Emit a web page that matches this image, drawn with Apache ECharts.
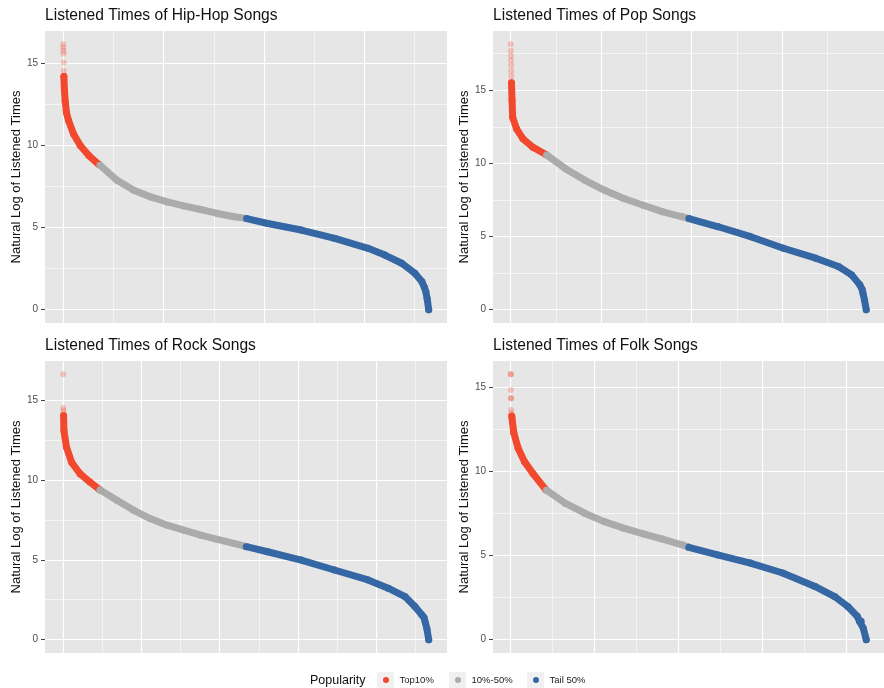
<!DOCTYPE html>
<html><head><meta charset="utf-8">
<script src="https://cdn.jsdelivr.net/npm/echarts@6/dist/echarts.min.js"></script>
<style>html,body{margin:0;padding:0;background:#fff}#c{width:884px;height:688px}</style>
</head><body><div id="c"></div>
<script>
// ---------- data ----------
const groupNames = ['Top10%', '10%-50%', 'Tail 50%'];
const groupColors = ['#F2492E', '#ABABAB', '#3467A4'];
const legendTitle = 'Popularity';
const yAxisTitle = 'Natural Log of Listened Times';
const yTickValues = [0, 5, 10, 15];
const panelTitles = ['Listened Times of Hip-Hop Songs', 'Listened Times of Pop Songs',
                     'Listened Times of Rock Songs', 'Listened Times of Folk Songs'];

// Hip-Hop
const hiphopCount = 3640;
const hiphopOutlierRank = [1, 2, 3, 4, 5, 6];
const hiphopOutlierLog = [16.16, 15.96, 15.76, 15.58, 15.05, 14.55];
const hiphopRank = [7, 12, 20, 33, 54, 103, 170, 253, 353, 366, 537, 703, 870, 1037, 1201, 1369, 1536, 1704, 1820,
                    1827, 2038, 2370, 2705, 3036, 3203, 3371, 3502, 3571, 3595, 3611, 3624, 3640];
const hiphopLog = [14.2, 13.4, 12.7, 12.0, 11.5, 10.7, 10.0, 9.4, 8.85, 8.8, 7.88, 7.27, 6.87, 6.56, 6.32, 6.10, 5.86, 5.66, 5.56,
                   5.55, 5.25, 4.85, 4.34, 3.74, 3.33, 2.83, 2.22, 1.72, 1.39, 1.10, 0.69, 0];

// Pop
const popCount = 3930;
const popOutlierRank = [1, 2, 3, 4, 5, 6, 7, 8];
const popOutlierLog = [18.14, 17.69, 17.35, 17.05, 16.71, 16.33, 15.99, 15.65];
const popRank = [9, 15, 22, 65, 136, 244, 389, 396, 605, 821, 1038, 1250, 1466, 1682, 1898, 1965,
                 1970, 2295, 2653, 3014, 3372, 3623, 3769, 3859, 3885, 3895, 3910, 3930];
const popLog = [15.5, 14.3, 13.15, 12.36, 11.68, 11.11, 10.61, 10.58, 9.64, 8.84, 8.16, 7.60, 7.14, 6.69, 6.35, 6.24,
                6.23, 5.67, 4.99, 4.20, 3.52, 2.95, 2.38, 1.70, 1.39, 1.10, 0.69, 0];

// Rock
const rockCount = 4670;
const rockOutlierRank = [1, 2, 3, 4];
const rockOutlierLog = [16.6, 14.49, 14.32, 14.12];
const rockRank = [5, 9, 42, 107, 215, 341, 467, 470, 686, 901, 1111, 1326, 1541, 1756, 1971, 2181, 2335,
                  2340, 2611, 3040, 3465, 3895, 4152, 4366, 4493, 4581, 4610, 4625, 4647, 4670];
const rockLog = [14.0, 13.08, 12.04, 11.1, 10.38, 9.86, 9.38, 9.37, 8.72, 8.09, 7.58, 7.16, 6.85, 6.54, 6.27, 6.02, 5.83,
                 5.82, 5.50, 4.98, 4.36, 3.74, 3.22, 2.70, 2.08, 1.56, 1.39, 1.10, 0.69, 0];

// Folk
const folkCount = 4240;
const folkOutlierRank = [1, 2, 3, 4, 5, 6, 7];
const folkOutlierLog = [15.8, 15.8, 14.86, 14.37, 14.37, 13.67, 13.48];
const folkRank = [13, 38, 89, 165, 263, 420, 426, 649, 882, 1115, 1348, 1582, 1810, 2044, 2120,
                  2124, 2468, 2858, 3244, 3629, 3863, 4020, 4134, 4160, 4180, 4205, 4240];
const folkLog = [13.3, 12.29, 11.40, 10.60, 9.91, 8.92, 8.90, 8.13, 7.53, 7.03, 6.64, 6.30, 5.99, 5.65, 5.51,
                 5.50, 5.05, 4.56, 3.97, 3.17, 2.57, 1.98, 1.39, 1.10, 1.10, 0.69, 0];

const panels = [
  {count: hiphopCount, rank: hiphopRank, log: hiphopLog, oRank: hiphopOutlierRank, oLog: hiphopOutlierLog},
  {count: popCount, rank: popRank, log: popLog, oRank: popOutlierRank, oLog: popOutlierLog},
  {count: rockCount, rank: rockRank, log: rockLog, oRank: rockOutlierRank, oLog: rockOutlierLog},
  {count: folkCount, rank: folkRank, log: folkLog, oRank: folkOutlierRank, oLog: folkOutlierLog}
];

// ---------- layout ----------
const gridBoxes = [
  {left: 45, top: 31, width: 402, height: 292},
  {left: 493, top: 31, width: 400, height: 292},
  {left: 45, top: 361, width: 402, height: 292},
  {left: 493, top: 361, width: 400, height: 292}
];
const FONT = '"Liberation Sans", Arial, Helvetica, sans-serif';

const grids = [], xAxes = [], yAxes = [], series = [], titles = [];
panels.forEach((p, i) => {
  const g = gridBoxes[i];
  grids.push(Object.assign({show: true, backgroundColor: '#E6E6E6', borderWidth: 0, containLabel: false}, g));
  titles.push({text: panelTitles[i], left: g.left, top: g.top - 23, padding: 0,
    textStyle: {fontFamily: FONT, fontSize: 15.6, fontWeight: 'normal', color: '#111'}});
  const allLog = p.log.concat(p.oLog);
  const ymax = Math.max.apply(null, allLog);
  const xpad = 0.05 * (p.count - 1);
  const xMajor = [];
  for (let v = 0; v <= p.count; v += 1000) xMajor.push(v);
  xAxes.push({type: 'value', gridIndex: i, min: 1 - xpad, max: p.count + xpad,
    minInterval: 1000, maxInterval: 1000, splitNumber: 4,
    axisLine: {show: false, onZero: false}, axisTick: {show: false, customValues: xMajor},
    axisLabel: {show: false, customValues: xMajor},
    splitLine: {show: true, lineStyle: {color: '#FFFFFF', width: 1.2}},
    minorTick: {show: false, splitNumber: 2},
    minorSplitLine: {show: true, lineStyle: {color: '#FFFFFF', width: 0.6}}});
  yAxes.push({type: 'value', gridIndex: i, min: -0.05 * ymax, max: 1.05 * ymax,
    minInterval: 5, maxInterval: 5, splitNumber: 4,
    name: yAxisTitle, nameLocation: 'middle', nameGap: 21, nameRotate: 90,
    nameTextStyle: {fontFamily: FONT, fontSize: 13, color: '#111'},
    axisLine: {show: false, onZero: false},
    axisTick: {show: true, length: 4, customValues: yTickValues, lineStyle: {color: '#444', width: 1}},
    axisLabel: {show: true, customValues: yTickValues, margin: 7, fontFamily: FONT, fontSize: 10, color: '#4D4D4D'},
    splitLine: {show: true, lineStyle: {color: '#FFFFFF', width: 1.2}},
    minorTick: {show: false, splitNumber: 2},
    minorSplitLine: {show: true, lineStyle: {color: '#FFFFFF', width: 0.6}}});

  const bounds = [0.1 * p.count, 0.5 * p.count];
  const groups = [[], [], []];
  p.rank.forEach((r, k) => {
    const gi = r <= bounds[0] ? 0 : (r <= bounds[1] ? 1 : 2);
    groups[gi].push([r, p.log[k]]);
  });
  groups.forEach((d, gi) => {
    series.push({type: 'line', name: groupNames[gi], xAxisIndex: i, yAxisIndex: i, data: d,
      showSymbol: true, symbol: 'circle', symbolSize: 7, z: 3, smooth: false,
      itemStyle: {color: groupColors[gi]},
      lineStyle: {color: groupColors[gi], width: 7, cap: 'round', join: 'round'},
      emphasis: {disabled: true}, silent: true});
  });
  series.push({type: 'scatter', name: 'Top10% outliers', xAxisIndex: i, yAxisIndex: i,
    data: p.oRank.map((r, k) => [r, p.oLog[k]]), symbolSize: 6, z: 2,
    itemStyle: {color: groupColors[0], opacity: 0.28}, silent: true});
});

// legend title
titles.push({text: legendTitle, left: 310, top: 674, padding: 0,
  textStyle: {fontFamily: FONT, fontSize: 12.5, fontWeight: 'normal', color: '#111'}});

const boxLefts = [377, 449, 527];
const legends = groupNames.map((n, gi) => ({
  data: [n], left: boxLefts[gi] + 6, top: 675, padding: 0, icon: 'circle', itemWidth: 17, itemHeight: 6, itemGap: 0,
  selectedMode: false, textStyle: {fontFamily: FONT, fontSize: 9.5, color: '#222'}
}));
const graphics = boxLefts.map(x => ({type: 'rect', left: x, top: 672, z: -1,
  shape: {width: 17, height: 17}, style: {fill: '#F0F0F0'}}));

const chart = echarts.init(document.getElementById('c'), null, {renderer: 'canvas'});
chart.setOption({
  animation: false,
  backgroundColor: '#FFFFFF',
  title: titles,
  grid: grids,
  xAxis: xAxes,
  yAxis: yAxes,
  legend: legends,
  graphic: graphics,
  series: series
});
</script></body></html>
